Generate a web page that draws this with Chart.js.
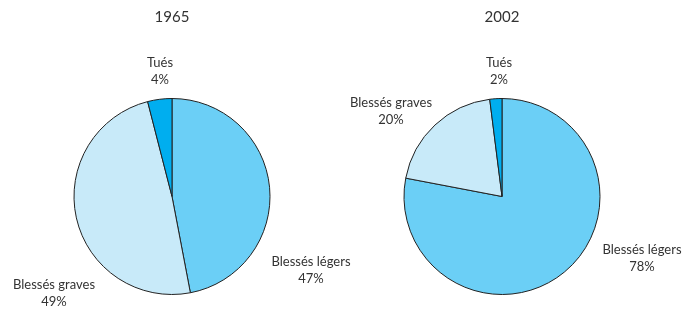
<!DOCTYPE html>
<html>
<head>
<meta charset="utf-8">
<script src="https://cdn.jsdelivr.net/npm/chart.js@4.4.1/dist/chart.umd.min.js"></script>
<style>
    html, body { margin: 0; padding: 0; background: #fff; }
    body { width: 686px; height: 309px; position: relative; overflow: hidden; }
    .pie-box { position: absolute; top: 0; height: 309px; }
    #box1965 { left: 0; width: 400px; }
    #box2002 { left: 330px; width: 356px; }
</style>
</head>
<body>
<div class="pie-box" id="box1965"><canvas id="pie1965"></canvas></div>
<div class="pie-box" id="box2002"><canvas id="pie2002"></canvas></div>
<script>
// Données
const categories = ['Blessés légers', 'Blessés graves', 'Tués'];
const values1965 = [47, 49, 4];
const values2002 = [78, 20, 2];
const pieColors = ['#6bcff6', '#c8eaf9', '#00aeef'];

// Position des étiquettes (décalage depuis le centre du camembert)
const labelOffsets1965 = [[139, 74], [-118, 97], [-12, -125]];
const labelOffsets2002 = [[140, 62], [-111, -85], [-3, -125]];

const textColor = '#333';
const fontFamily = 'Lato, "Open Sans", sans-serif';

const pieLabels = {
    id: 'pieLabels',
    afterDatasetsDraw(chart, args, opts) {
        const ctx = chart.ctx;
        const arc = chart.getDatasetMeta(0).data[0];
        if (!arc) return;
        const cx = arc.x, cy = arc.y;
        const vals = chart.data.datasets[0].data;
        ctx.save();
        ctx.fillStyle = textColor;
        ctx.font = '13px ' + fontFamily;
        ctx.textAlign = 'center';
        ctx.textBaseline = 'middle';
        chart.data.labels.forEach((lab, i) => {
            const off = opts.offsets[i];
            ctx.fillText(lab, cx + off[0], cy + off[1] - 8.5);
            ctx.fillText(vals[i] + '%', cx + off[0], cy + off[1] + 8.5);
        });
        ctx.restore();
    }
};

function makePie(canvasId, title, values, offsets, padRight) {
    return new Chart(document.getElementById(canvasId).getContext('2d'), {
        type: 'pie',
        data: {
            labels: categories,
            datasets: [{
                data: values,
                backgroundColor: pieColors,
                borderColor: '#222',
                borderWidth: 1,
                hoverOffset: 0
            }]
        },
        options: {
            responsive: true,
            maintainAspectRatio: false,
            animation: false,
            events: [],
            layout: { padding: { top: 0, bottom: 14, left: 0, right: padRight } },
            plugins: {
                legend: { display: false },
                tooltip: { enabled: false },
                title: {
                    display: true,
                    text: title,
                    color: textColor,
                    font: { family: fontFamily, size: 15, weight: 'normal', lineHeight: 1.2 },
                    padding: { top: 8, bottom: 72 }
                },
                pieLabels: { offsets: offsets }
            }
        },
        plugins: [pieLabels]
    });
}

makePie('pie1965', '1965', values1965, labelOffsets1965, 56);
makePie('pie2002', '2002', values2002, labelOffsets2002, 12);
</script>
</body>
</html>
